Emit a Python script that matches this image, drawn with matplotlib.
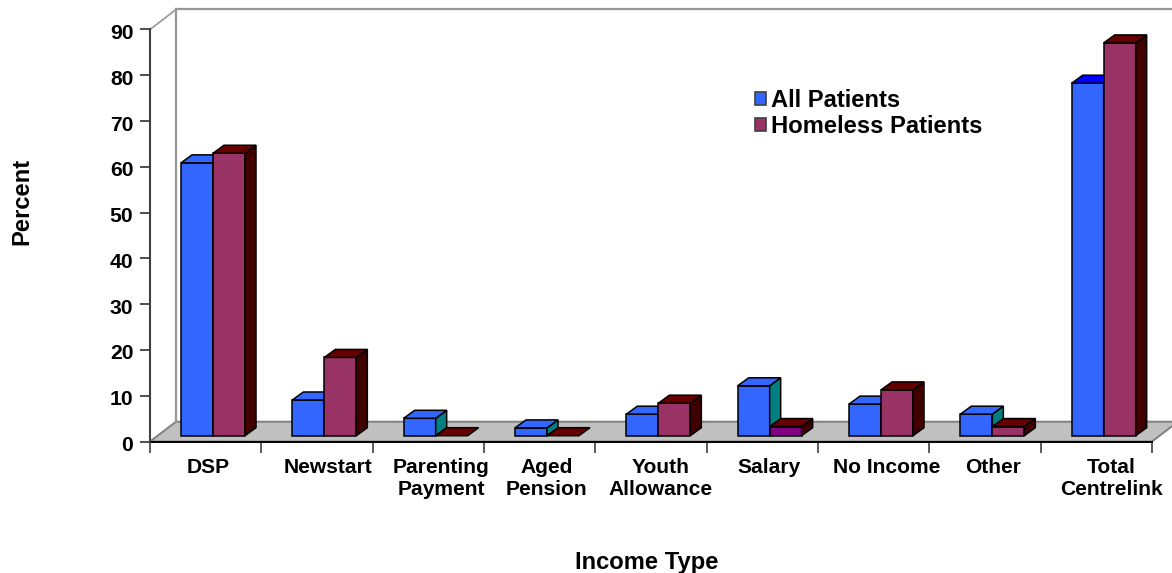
import numpy as np
import matplotlib
matplotlib.use("Agg")
import matplotlib.pyplot as plt
from matplotlib.patches import Polygon, Patch
from matplotlib.transforms import ScaledTranslation

plt.rcParams['font.family'] = ['Liberation Sans', 'DejaVu Sans']
plt.rcParams['font.weight'] = 'bold'

categories = ["DSP", "Newstart", "Parenting\nPayment", "Aged\nPension", "Youth\nAllowance",
              "Salary", "No Income", "Other", "Total\nCentrelink"]
all_patients = [59.6, 7.8, 3.8, 1.7, 4.7, 10.9, 6.9, 4.7, 77.0]
homeless_patients = [61.7, 17.1, 0, 0, 7.1, 2.0, 10.0, 2.0, 85.8]
y_ticks = [0, 10, 20, 30, 40, 50, 60, 70, 80, 90]

W, H = 1172, 573
fig = plt.figure(figsize=(W / 100, H / 100), dpi=100)
ax = fig.add_axes([150 / W, 1 - 441.5 / H, 1002 / W, 412 / H])
ax.set_xlim(0, 9)
ax.set_ylim(0, 90)

px_x = 1002 / 9
px_y = 412 / 90
wall_dx = 26 / px_x
floor_dy = 19.8 / px_y
top_dy = 20 / px_y
bar_w = 32 / px_x
bar_off = 31 / px_x
bar_base = 5.8 / px_y
dep_x = 11 / px_x
dep_y = 8 / px_y

# floor and back wall
ax.add_patch(Polygon([(0, 0), (wall_dx, floor_dy), (9 + wall_dx, floor_dy), (9, 0)],
                     closed=True, fc="#C0C0C0", ec="#808080", lw=1.4, clip_on=False, zorder=1))
ax.plot([wall_dx, wall_dx], [floor_dy, 90 + top_dy], color="#969696", lw=1.6, clip_on=False, zorder=1)
ax.plot([wall_dx, 9 + wall_dx], [90 + top_dy, 90 + top_dy], color="#969696", lw=1.6, clip_on=False, zorder=1)
ax.plot([0, wall_dx], [90, 90 + top_dy], color="#969696", lw=1.2, clip_on=False, zorder=1)


def draw_bar(x, val, front, top, side, z):
    y0 = bar_base
    y1 = bar_base + val
    if val > 0:
        ax.bar(x, val, bar_w, bottom=y0, align="edge", color=front, edgecolor="black", lw=1.1, zorder=z)
        ax.add_patch(Polygon([(x + bar_w, y0), (x + bar_w + dep_x, y0 + dep_y),
                              (x + bar_w + dep_x, y1 + dep_y), (x + bar_w, y1)],
                             closed=True, fc=side, ec="black", lw=1.1, zorder=z))
    ax.add_patch(Polygon([(x, y1), (x + dep_x, y1 + dep_y), (x + bar_w + dep_x, y1 + dep_y), (x + bar_w, y1)],
                         closed=True, fc=top, ec="black", lw=1.1, zorder=z))


for i in range(len(categories)):
    x = i + bar_off
    blue_top = "#0000FF" if i == 8 else "#3366FF"
    draw_bar(x, all_patients[i], "#3366FF", blue_top, "#008080", 3 + i * 2)
    front = "#800080" if i == 5 else "#993366"
    draw_bar(x + bar_w, homeless_patients[i], front, "#660000", "#400000", 4 + i * 2)

# axes
for s in ["top", "right"]:
    ax.spines[s].set_visible(False)
ax.spines["left"].set_color("#404040")
ax.spines["left"].set_linewidth(1.5)
ax.spines["bottom"].set_color("black")
ax.spines["bottom"].set_linewidth(1.4)
ax.spines["bottom"].set_zorder(2)
ax.set_yticks(y_ticks)
ax.tick_params(axis="y", length=7, width=1.2, color="#303030", labelsize=15.2, pad=5)
shift_down = ScaledTranslation(0, -2 / 100, fig.dpi_scale_trans)
for lab in ax.get_yticklabels():
    lab.set_transform(lab.get_transform() + shift_down)
ax.set_xticks(np.arange(0, 10))
ax.tick_params(axis="x", which="major", length=8, width=1.2, color="#404040", labelbottom=False)
label_shift = [3, 11, 13, 7, 10, 7, 13, 8, 15]
ax.set_xticks([i + 0.5 + label_shift[i] / px_x for i in range(9)], minor=True)
ax.set_xticklabels(categories, minor=True, fontsize=15.1, linespacing=1.22)
ax.tick_params(axis="x", which="minor", length=0, pad=12)

fig.text(647 / W, 1 - 562.5 / H, "Income Type", ha="center", va="center", fontsize=17.1, fontweight="bold")
fig.text(21.5 / W, 1 - 201 / H, "Percent", ha="center", va="center", rotation=90, fontsize=17.1, fontweight="bold")

handles = [Patch(fc="#3366FF", ec="#404040", lw=1.2), Patch(fc="#993366", ec="#404040", lw=1.2)]
ax.legend(handles, ["All Patients", "Homeless Patients"], loc="upper left", frameon=False,
          bbox_to_anchor=(755 / W, 1 - 89 / H), bbox_transform=fig.transFigure,
          fontsize=17.15, handlelength=0.47, handleheight=0.47, handletextpad=0.22,
          labelspacing=0.14, borderpad=0, borderaxespad=0)

fig.savefig("out.png", dpi=100)
